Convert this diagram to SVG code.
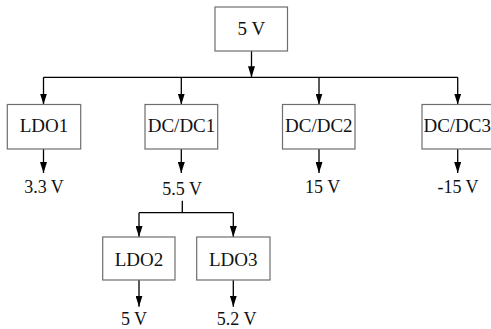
<svg xmlns="http://www.w3.org/2000/svg" width="491" height="329" viewBox="0 0 491 329">
  <defs>
    <marker id="arrow" markerUnits="userSpaceOnUse" viewBox="0 0 11 7" refX="11" refY="3.5" markerWidth="11" markerHeight="7" orient="auto">
      <path d="M0,0 L11,3.5 L0,7 z" fill="#000"/>
    </marker>
    <style>
      .box { fill: #fff; stroke: #6e6e6e; stroke-width: 1.2; }
      .lbl { font-family: "Liberation Serif", "Times New Roman", serif; font-size: 19px; fill: #111; text-anchor: middle; }
      .out { font-family: "Liberation Serif", "Times New Roman", serif; font-size: 18px; fill: #111; text-anchor: middle; }
      .wire { fill: none; stroke: #000; stroke-width: 1.3; }
      .arr { fill: none; stroke: #000; stroke-width: 1.3; marker-end: url(#arrow); }
    </style>
  </defs>
  <rect width="491" height="329" fill="#fff"/>

  <g id="connectors">
    <path class="arr" d="M251.5,51 V77.3"/>
    <path class="wire" d="M43.5,77.3 H457.7"/>
    <path class="arr" d="M43.5,77.3 V104.5"/>
    <path class="arr" d="M181.3,77.3 V104.5"/>
    <path class="arr" d="M319,77.3 V104.5"/>
    <path class="arr" d="M457.7,77.3 V104.5"/>
    <path class="arr" d="M43.5,149 V173"/>
    <path class="arr" d="M181.3,149 V173"/>
    <path class="arr" d="M319,149 V173"/>
    <path class="arr" d="M457.7,149 V173"/>
    <path class="wire" d="M182.3,200.7 V212.7 M139,212.7 H233.3"/>
    <path class="arr" d="M139,212.7 V237"/>
    <path class="arr" d="M233.3,212.7 V237"/>
    <path class="arr" d="M139,280 V306.7"/>
    <path class="arr" d="M233.3,280 V306.7"/>
  </g>

  <g id="n-5v">
    <rect class="box" x="215" y="7" width="72.5" height="44"/>
    <text class="lbl" x="251.3" y="35">5 V</text>
  </g>
  <g id="n-ldo1">
    <rect class="box" x="7.3" y="104.5" width="73.4" height="44.5"/>
    <text class="lbl" x="44" y="131.5">LDO1</text>
  </g>
  <g id="n-dcdc1">
    <rect class="box" x="145" y="104.5" width="72.7" height="44.5"/>
    <text class="lbl" x="181.5" y="131.5">DC/DC1</text>
  </g>
  <g id="n-dcdc2">
    <rect class="box" x="282.5" y="104.5" width="72.5" height="44.5"/>
    <text class="lbl" x="318.8" y="131.5">DC/DC2</text>
  </g>
  <g id="n-dcdc3">
    <rect class="box" x="422" y="104.5" width="72" height="44.5"/>
    <text class="lbl" x="457.2" y="131.5">DC/DC3</text>
  </g>
  <g id="n-ldo2">
    <rect class="box" x="102.7" y="237" width="72.3" height="43"/>
    <text class="lbl" x="139" y="266">LDO2</text>
  </g>
  <g id="n-ldo3">
    <rect class="box" x="196.7" y="237" width="73.3" height="43"/>
    <text class="lbl" x="233.3" y="266">LDO3</text>
  </g>

  <g id="outputs">
    <text class="out" x="44" y="193.3">3.3 V</text>
    <text class="out" x="182.2" y="195">5.5 V</text>
    <text class="out" x="322.7" y="193.3">15 V</text>
    <text class="out" x="458" y="193.3">-15 V</text>
    <text class="out" x="134" y="325">5 V</text>
    <text class="out" x="236.7" y="325">5.2 V</text>
  </g>
</svg>
